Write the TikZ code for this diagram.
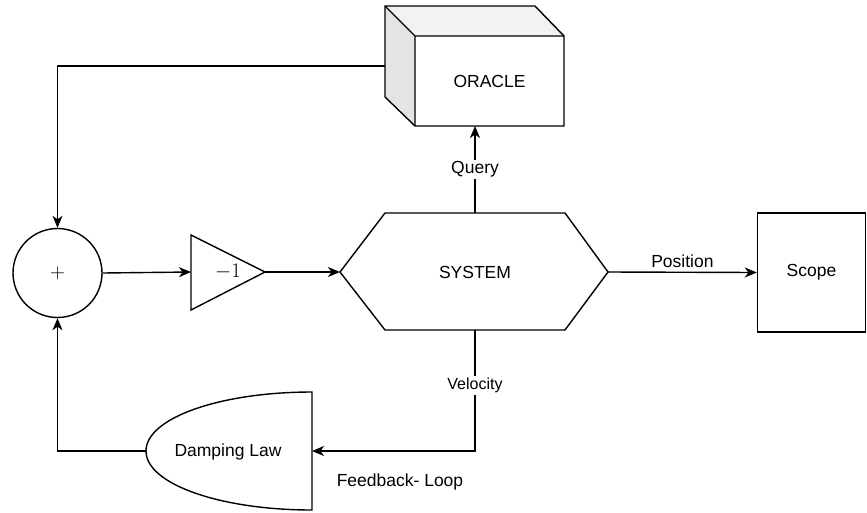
\documentclass[tikz,border=0pt]{standalone}
\usepackage{fontspec}
\setmainfont{Liberation Sans}
\usetikzlibrary{arrows.meta}

\definecolor{cubetop}{RGB}{242,242,242}
\definecolor{cubeside}{RGB}{228,228,228}

\tikzset{
  wire/.style={line width=1.4pt, -{Stealth[length=12pt,width=10pt,inset=3.5pt]}},
  lbl/.style={font=\fontsize{17.5}{21}\selectfont},
  smalllbl/.style={font=\fontsize{16}{19}\selectfont},
  mathlbl/.style={font=\fontsize{21}{25}\selectfont},
}

\begin{document}
\begin{tikzpicture}[x=1pt,y=1pt,yscale=-1,xscale=1,line width=1.4pt,lbl]
  \useasboundingbox (0,0) rectangle (867,512);

  %Cube [ORACLE]
  \fill[cubetop] (385,6) -- (535,6) -- (564,36) -- (415,36) -- cycle;
  \fill[cubeside] (385,6) -- (415,36) -- (415,126) -- (385,97) -- cycle;
  \draw (385,6) -- (535,6) -- (564,36) -- (564,126) -- (415,126) -- (385,97) -- cycle;
  \draw (385,6) -- (415,36) -- (564,36) (415,36) -- (415,126);
  \node (oracle) at (489.5,81) {ORACLE};
  \coordinate (oracleW) at (385,66);
  \coordinate (oracleS) at (475,126);

  %Summing junction
  \node[draw, circle, minimum size=89pt, inner sep=0pt, mathlbl] (sum) at (57.5,273) {$+$};

  %Gain triangle
  \draw (191,235) -- (265,272) -- (191,310) -- cycle;
  \node[mathlbl] (gain) at (228,272) {$-1$};
  \coordinate (gainW) at (191,272);
  \coordinate (gainE) at (265,272);

  %Hexagon [SYSTEM]
  \draw (340,272) -- (385,213) -- (565,213) -- (608,272) -- (565,330) -- (385,330) -- cycle;
  \node (system) at (475,272) {SYSTEM};
  \coordinate (sysW) at (340,272);
  \coordinate (sysE) at (608,272);
  \coordinate (sysN) at (475,213);
  \coordinate (sysS) at (475,330);

  %Rect [Scope]
  \node[draw, minimum width=108pt, minimum height=119pt, inner sep=0pt] (scope) at (811.5,272.5) {Scope};

  %Delay shape [Damping Law]
  \draw (312,392) .. controls (220,392) and (146,418) .. (146,451)
    .. controls (146,484) and (220,510) .. (312,510) -- cycle;
  \node (damp) at (228,452) {Damping Law};
  \coordinate (dampW) at (146,451);
  \coordinate (dampE) at (312,451);

  %Connectors
  \draw[wire] (oracleW) -| (sum.north);
  \draw[wire] (sum.east) -- (gainW);
  \draw[wire] (gainE) -- (sysW);
  \draw[wire] (sysN) -- node[fill=white, inner sep=2pt] {Query} (oracleS);
  \draw[wire] (sysE) -- node[above=1pt] {Position} (scope.west);
  \draw[wire] (sysS) |- node[pos=0.23, fill=white, inner sep=2pt, smalllbl] {Velocity} (dampE);
  \draw[wire] (dampW) -| (sum.south);

  % Text Node
  \node (loop) at (400,482) {Feedback- Loop};

\end{tikzpicture}
\end{document}
